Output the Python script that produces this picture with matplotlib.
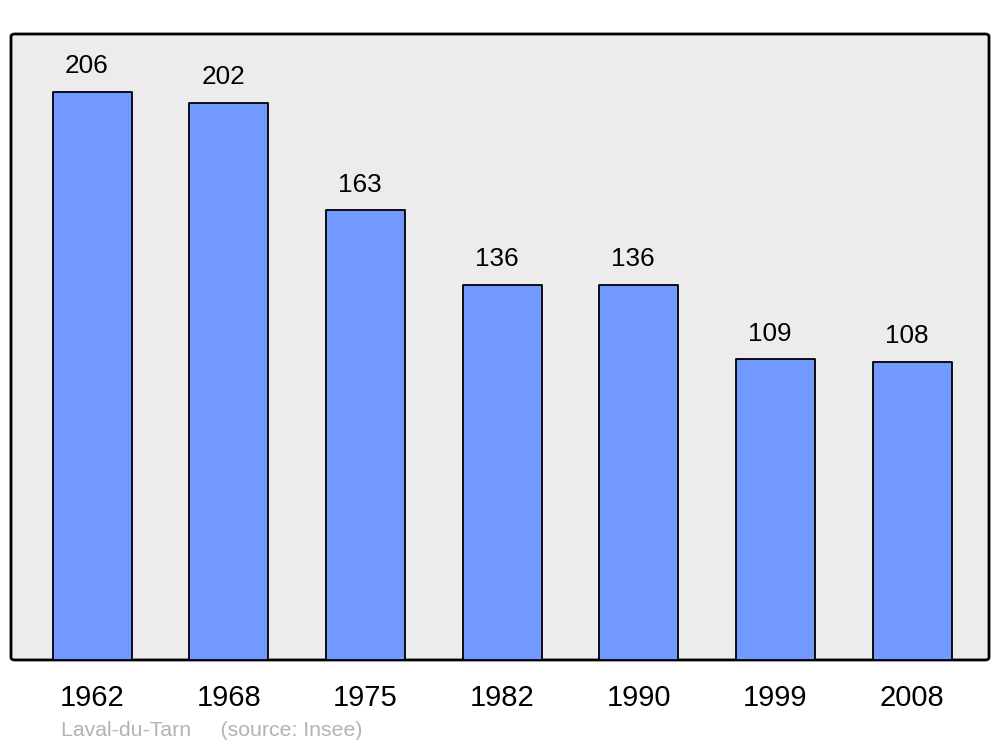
import matplotlib.pyplot as plt
from matplotlib.patches import FancyBboxPatch

plt.rcParams['font.family'] = ['Liberation Sans', 'DejaVu Sans']

annees = ['1962', '1968', '1975', '1982', '1990', '1999', '2008']
population = [206, 202, 163, 136, 136, 109, 108]

fig = plt.figure(figsize=(10, 7.47), dpi=100)
ax = fig.add_axes([0.011, 0.1165, 0.978, 0.838])

x = range(len(annees))
bars = ax.bar(x, population, width=0.578, color='#7299ff', edgecolor='black',
              linewidth=1.3, zorder=3)
for b in bars:
    b.set_joinstyle('round')

for xi, v in zip(x, population):
    ax.annotate(str(v), (xi, v), xytext=(-4, 18.5), textcoords='offset points',
                ha='center', va='center', fontsize=18.8)

ax.set_xlim(-0.593, 6.563)
ax.set_ylim(0, 227)
ax.set_facecolor('none')
for s in ax.spines.values():
    s.set_visible(False)

frame = FancyBboxPatch((0, 0), 1, 1, boxstyle='round,pad=0,rounding_size=0.004',
                       transform=ax.transAxes, facecolor='#ececec',
                       edgecolor='black', linewidth=2, zorder=0, clip_on=False)
ax.add_patch(frame)

ax.set_xticks(list(x))
ax.set_xticklabels(annees, fontsize=21)
ax.tick_params(axis='x', length=0, pad=17)
ax.set_yticks([])

fig.text(0.061, 1 - 730 / 747, 'Laval-du-Tarn     (source: Insee)', fontsize=15.3,
         color='#b3b3b3', ha='left', va='center')

plt.savefig('out.png', dpi=100)
